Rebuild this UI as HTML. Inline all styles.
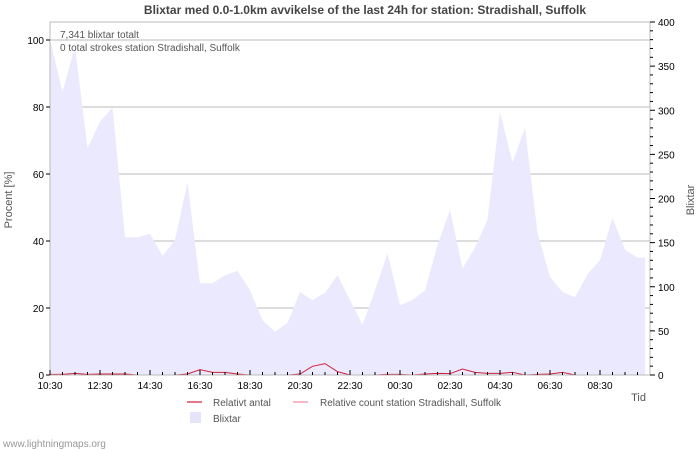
<!DOCTYPE html>
<html><head><meta charset="utf-8"><style>
body{margin:0;background:#fff;}
svg{display:block;font-family:"Liberation Sans","DejaVu Sans",sans-serif;}
</style></head><body>
<svg id="c" width="700" height="450">
<rect width="700" height="450" fill="#fff"/>
<text x="365" y="14" text-anchor="middle" font-size="12" font-weight="bold" fill="#444">Blixtar med 0.0-1.0km avvikelse of the last 24h for station: Stradishall, Suffolk</text>
<g id="grid"></g>
<g id="area"></g>
<g id="lines"></g>
<rect x="50" y="22" width="600" height="353" fill="none" stroke="#bbb"/>
<g id="axes" font-size="10" fill="#000"></g>
<text x="60" y="38" font-size="10" fill="#555">7,341 blixtar totalt</text>
<text x="60" y="51" font-size="10" fill="#555">0 total strokes station Stradishall, Suffolk</text>
<text transform="translate(12,200) rotate(-90)" text-anchor="middle" font-size="11" fill="#555">Procent   [%]</text>
<text transform="translate(694,200) rotate(-90)" text-anchor="middle" font-size="11" fill="#555">Blixtar</text>
<text x="646" y="401" text-anchor="end" font-size="11" fill="#555">Tid</text>
<g font-size="10" fill="#555">
<line x1="187" y1="402" x2="202" y2="402" stroke="#d0203a" stroke-width="1.2"/>
<text x="213" y="406">Relativt antal</text>
<line x1="293" y1="402" x2="308" y2="402" stroke="#f08aa0" stroke-width="1.2"/>
<text x="320" y="406">Relative count station Stradishall, Suffolk</text>
<rect x="190" y="412" width="11" height="11" fill="#e6e4fb"/>
<text x="213" y="422">Blixtar</text>
</g>
<text x="3" y="447" font-size="10" fill="#999">www.lightningmaps.org</text>
</svg>
<script>
const xLabels=["10:30","12:30","14:30","16:30","18:30","20:30","22:30","00:30","02:30","04:30","06:30","08:30"];
const leftTicks=[0,20,40,60,80,100];
const rightTicks=[0,50,100,150,200,250,300,350,400];
const blixtar=[380,321,372,257,287,303,156,156,160,135,153,218,104,104,113,118,96,62,49,59,94,85,93,113,85,57,96,138,79,85,96,147,187,121,144,176,298,241,280,161,111,94,88,114,130,178,142,133];
const relativ=[0.2,0.2,0.5,0.2,0.3,0.3,0.3,0,0,0,0,0.3,1.6,0.8,0.8,0.3,0,0,0,0,0.3,2.6,3.4,1,0,0,0,0.2,0.2,0,0.3,0.5,0.4,1.8,0.8,0.5,0.5,0.8,0,0.2,0.3,0.8,0,0,0,0,0,0];
const NS="http://www.w3.org/2000/svg";
const X0=50,W=600,Y0=375;
const xAt=i=>X0+i*12.5;
const yL=v=>Y0-v*3.35;
const yR=v=>Y0-v*0.8825;
function mk(t,a,p){const e=document.createElementNS(NS,t);for(const k in a)e.setAttribute(k,a[k]);document.getElementById(p).appendChild(e);return e;}
leftTicks.forEach(v=>{if(v>0){const g=mk('line',{x1:X0,x2:X0+W,y1:yL(v),y2:yL(v),stroke:'#bbb'},'grid');

}
const t=mk('text',{x:44,y:yL(v)+4,'text-anchor':'end'},'axes');t.textContent=v;


mk('line',{x1:X0-4,x2:X0,y1:yL(v),y2:yL(v),stroke:'#000'},'axes');});
for(let v=0;v<=400;v+=10){mk('line',{x1:X0+W,x2:X0+W+(v%50?3:5),y1:yR(v),y2:yR(v),stroke:'#000'},'axes');}
rightTicks.forEach(v=>{const t=mk('text',{x:X0+W+8,y:yR(v)+4},'axes');t.textContent=v;

});
for(let i=0;i<48;i++){mk('line',{x1:xAt(i),x2:xAt(i),y1:Y0,y2:Y0-(i%4==0?5:3),stroke:'#000'},'axes');}
xLabels.forEach((l,i)=>{const t=mk('text',{x:X0+i*50,y:Y0+14,'text-anchor':'middle'},'axes');t.textContent=l;

});
let d='M'+X0+','+Y0;blixtar.forEach((v,i)=>d+=' L'+xAt(i)+','+yR(v));d+=' L'+(X0+W-5)+','+yR(blixtar[blixtar.length-1])+' L'+(X0+W-5)+','+Y0+' Z';
const a=mk('path',{d:d,fill:'#ebe9fd'},'area');


const pts=relativ.map((v,i)=>xAt(i)+','+yL(v)).join(' ');
const pl=mk('polyline',{points:pts,fill:'none',stroke:'#d0203a','stroke-width':1},'lines');


</script>
</body></html>
